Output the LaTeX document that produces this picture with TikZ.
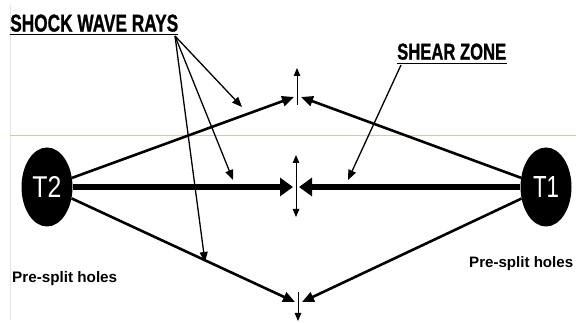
\documentclass[tikz,border=0pt]{standalone}
\usepackage{fontspec}
\setmainfont{Liberation Sans}
\newfontfamily\heavyfont[FakeBold=1.2]{Liberation Sans Bold}
\usetikzlibrary{arrows.meta,shapes.geometric}
\definecolor{tanline}{RGB}{222,196,168}
\definecolor{frameline}{RGB}{228,228,228}
\begin{document}
\begin{tikzpicture}[x=1pt,y=-1pt,
  hole/.style={ellipse,fill=black,minimum width=51pt,minimum height=79pt,inner sep=0pt,text=white},
  ray/.style={line width=2.6pt,-{Triangle[length=12pt,width=10pt]}},
  bigray/.style={line width=6.5pt,-{Triangle[length=13pt,width=18pt]}},
  pointer/.style={line width=1.3pt,-{Triangle[length=10pt,width=8pt]}},
  vert/.style={line width=1pt},
  vtip/.tip={Triangle[length=8pt,width=6.5pt]},
  lbl/.style={inner sep=0pt},
  uline/.style={line width=1.6pt},
]
\useasboundingbox (0,0) rectangle (576,323);
% faint page frame and guide line
\draw[frameline,line width=0.8pt] (10,5) -- (10,320);
\draw[tanline,line width=1pt] (10,136) -- (576,136);

% holes
\node[hole] (t2) at (47,187) {\resizebox{29pt}{21pt}{T2}};
\node[hole] (t1) at (546,187) {\resizebox{26pt}{21pt}{T1}};

% meeting points
\coordinate (tl) at (294,97);
\coordinate (tr) at (301,97);
\coordinate (ml) at (293,187);
\coordinate (mr) at (299,187);
\coordinate (bl) at (295,302);
\coordinate (br) at (302,302);

% rays
\draw[ray] (t2) -- (tl);
\draw[ray] (t1) -- (tr);
\draw[bigray] (t2.east) -- (ml);
\draw[bigray] (t1.west) -- (mr);
\draw[ray] (t2) -- (bl);
\draw[ray] (t1) -- (br);

% vertical arrows
\coordinate (v1a) at (297,105);
\coordinate (v1b) at (297,68);
\coordinate (v2a) at (296,155);
\coordinate (v2b) at (296,217);
\coordinate (v3a) at (298,292);
\coordinate (v3b) at (298,321);
\draw[vert,-{vtip}] (v1a) -- (v1b);
\draw[vert,{vtip}-{vtip}] (v2a) -- (v2b);
\draw[vert,-{vtip}] (v3a) -- (v3b);

% labels
\node[lbl,anchor=south west] (sw) at (10,32) {\resizebox{168pt}{17pt}{\heavyfont SHOCK WAVE RAYS}};
\draw[uline] (10,34.5) -- (178,34.5);
\node[lbl,anchor=south west] (sz) at (397,60) {\resizebox{109pt}{16pt}{\heavyfont SHEAR ZONE}};
\draw[uline] (397,63.5) -- (507,63.5);

\node[lbl,anchor=base west] (p2) at (12,282) {\resizebox{105pt}{!}{\bfseries Pre-split holes}};
\node[lbl,anchor=base west] (p1) at (469,268) {\resizebox{104pt}{!}{\bfseries Pre-split holes}};

% pointers
\coordinate (swo) at (175,36);
\coordinate (s1) at (242,107);
\coordinate (s2) at (233,180);
\coordinate (s3) at (205,262);
\draw[pointer] (swo) -- (s1);
\draw[pointer] (swo) -- (s2);
\draw[pointer] (swo) -- (s3);
\coordinate (szo) at (401,65);
\coordinate (sz1) at (348,180);
\draw[pointer] (szo) -- (sz1);
\end{tikzpicture}
\end{document}
